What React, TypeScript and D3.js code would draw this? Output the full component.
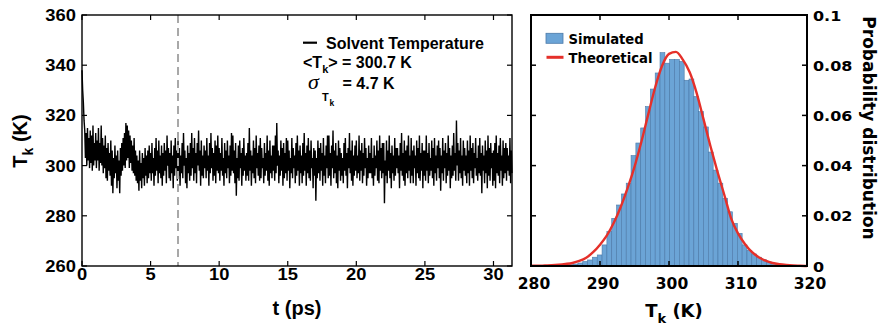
import React from 'react';
import * as d3 from 'd3';

// ---------------- DATA ----------------
const timeStepPs = 0.05;
// Solvent kinetic temperature (K), sampled every 0.05 ps from t = 0 (one row per ps)
const solventTemperature: number[] = [
  338, 330, 325, 318, 314, 303, 313, 300, 315, 302, 311, 299, 314, 301, 312, 298, 316, 300, 309, 302,
  313, 299, 310, 302, 315, 298, 309, 301, 316, 300, 311, 297, 308, 299, 312, 295, 307, 294, 309, 298,
  305, 296, 310, 292, 306, 289, 303, 295, 308, 297, 304, 291, 306, 294, 302, 289, 307, 296, 309, 298,
  311, 300, 313, 299, 317, 302, 316, 303, 314, 299, 312, 301, 310, 298, 308, 297, 311, 296, 306, 294,
  304, 293, 302, 290, 306, 294, 301, 291, 305, 295, 303, 292, 307, 296, 304, 293, 306, 295, 308, 297,
  305, 294, 309, 297, 303, 292, 307, 296, 311, 298, 306, 293, 310, 297, 304, 295, 308, 292, 305, 296,
  309, 298, 306, 293, 312, 300, 307, 295, 305, 294, 310, 297, 304, 291, 308, 296, 311, 299, 306, 294,
  310, 296, 307, 292, 304, 297, 309, 295, 313, 300, 306, 293, 303, 291, 308, 297, 305, 294, 309, 296,
  313, 299, 307, 294, 311, 297, 305, 293, 309, 300, 314, 298, 306, 292, 310, 296, 304, 295, 308, 299,
  306, 295, 311, 298, 304, 292, 309, 297, 313, 299, 307, 294, 305, 296, 310, 293, 308, 298, 312, 297,
  307, 294, 305, 298, 311, 296, 303, 292, 309, 297, 306, 295, 310, 299, 304, 293, 308, 296, 313, 298,
  312, 297, 306, 293, 309, 288, 303, 295, 308, 294, 310, 299, 305, 292, 307, 296, 311, 298, 304, 294,
  305, 296, 309, 294, 315, 298, 306, 292, 304, 297, 310, 295, 307, 293, 312, 299, 305, 296, 308, 294,
  311, 295, 307, 299, 303, 293, 309, 296, 305, 298, 312, 294, 306, 292, 310, 297, 304, 295, 308, 298,
  308, 294, 312, 297, 317, 300, 306, 293, 304, 296, 310, 298, 307, 292, 309, 295, 305, 297, 311, 294,
  310, 298, 306, 291, 303, 297, 311, 295, 307, 299, 304, 293, 309, 296, 312, 298, 306, 292, 308, 297,
  304, 293, 309, 296, 313, 298, 305, 292, 308, 297, 311, 295, 306, 294, 310, 299, 303, 291, 307, 296,
  306, 286, 303, 295, 310, 297, 307, 294, 309, 298, 305, 292, 311, 296, 304, 293, 308, 299, 312, 295,
  312, 296, 305, 292, 308, 299, 314, 295, 306, 297, 309, 293, 304, 291, 310, 298, 307, 294, 305, 296,
  303, 293, 309, 298, 311, 296, 305, 291, 307, 299, 313, 297, 306, 294, 310, 292, 304, 296, 308, 298,
  310, 295, 304, 297, 312, 294, 306, 298, 309, 293, 305, 296, 311, 299, 307, 292, 303, 295, 308, 297,
  305, 297, 311, 295, 303, 292, 308, 296, 304, 299, 310, 294, 306, 293, 312, 298, 307, 295, 309, 297,
  309, 285, 302, 296, 310, 293, 306, 298, 312, 295, 305, 291, 308, 297, 304, 294, 311, 296, 307, 299,
  307, 297, 304, 291, 309, 298, 313, 296, 305, 294, 310, 292, 306, 297, 308, 295, 312, 298, 304, 293,
  311, 296, 306, 293, 308, 299, 304, 292, 310, 297, 307, 295, 312, 294, 305, 298, 309, 291, 306, 296,
  306, 294, 312, 298, 305, 293, 309, 296, 303, 298, 310, 295, 307, 292, 311, 297, 304, 294, 308, 299,
  310, 295, 307, 290, 304, 297, 311, 294, 306, 299, 309, 293, 305, 296, 312, 298, 307, 291, 304, 295,
  308, 296, 313, 298, 305, 294, 318, 300, 309, 294, 306, 297, 311, 295, 304, 292, 310, 298, 307, 296,
  304, 293, 310, 297, 306, 292, 312, 298, 307, 295, 309, 293, 305, 299, 311, 296, 303, 294, 308, 297,
  311, 296, 305, 289, 308, 298, 304, 293, 310, 297, 306, 291, 312, 296, 307, 294, 309, 299, 305, 292,
  306, 294, 309, 291, 312, 297, 305, 296, 308, 293, 311, 298, 304, 292, 310, 295, 307, 297, 309, 294,
  307, 298, 304, 296, 311, 293, 306, 297,
];
const equilibrationTimePs = 7;
const leftXTicks = [0, 5, 10, 15, 20, 25, 30];
const leftYTicks = [260, 280, 300, 320, 340, 360];

// Histogram of simulated T_k (probability density per bin)
const histBinStart = 284.0;
const histBinWidth = 0.7;
const histDensity = [
  0.0002, 0.0003, 0.0005, 0.0008, 0.0012, 0.0018, 0.0024, 0.0035, 0.0044, 0.0084,
  0.0137, 0.0190, 0.0243, 0.0287, 0.0330, 0.0440, 0.0490, 0.0550, 0.0635, 0.0705,
  0.0769, 0.0850, 0.0808, 0.0823, 0.0823, 0.0815, 0.0740, 0.0745, 0.0675, 0.0615,
  0.0554, 0.0454, 0.0382, 0.0330, 0.0270, 0.0216, 0.0170, 0.0130, 0.0084, 0.0062,
  0.0048, 0.0035, 0.0025, 0.0016, 0.0010, 0.0006, 0.0003, 0.0002,
];
// Theoretical distribution
const theoryT = [
  280, 281, 282, 283, 284, 285, 286, 287, 288, 289, 290, 291, 292, 293, 294, 295, 296, 297, 298, 299, 300,
  301, 302, 303, 304, 305, 306, 307, 308, 309, 310, 311, 312, 313, 314, 315, 316, 317, 318, 319, 320,
];
const theoryP = [
  0.0001, 0.0001, 0.0002, 0.0003, 0.0005, 0.0008, 0.0012, 0.0020, 0.0033, 0.0055, 0.0085,
  0.0122, 0.0172, 0.0235, 0.0310, 0.0395, 0.0495, 0.0605, 0.0712, 0.0798, 0.0845,
  0.0853, 0.0822, 0.0772, 0.0690, 0.0585, 0.0478, 0.0378, 0.0285, 0.0190, 0.0130,
  0.0088, 0.0056, 0.0035, 0.0021, 0.0012, 0.0007, 0.0004, 0.0002, 0.0001, 0.0000,
];
const rightXTicks = [280, 290, 300, 310, 320];
const rightYTicks = [0, 0.02, 0.04, 0.06, 0.08, 0.1];
const rightYTickLabels = ['0', '0.02', '0.04', '0.06', '0.08', '0.1'];

const legendLineLabel = 'Solvent Temperature';
const meanLabel = '300.7';
const sigmaLabel = '4.7';

// ---------------- STYLE ----------------
const ARIAL = '"Liberation Sans", Arial, sans-serif';
const VERD = '"DejaVu Sans", Verdana, sans-serif';
const BAR_FILL = '#6ba4d6';
const BAR_STROKE = '#4b79a8';
const RED = '#e5302a';

const L = { left: 82, right: 512, top: 15, bottom: 266 };
const R = { left: 531, right: 807, top: 15, bottom: 266 };

function SText(props: { x: number; y: number; sx?: number; anchor?: string; size: number; family: string; children: any }) {
  const { x, y, sx = 1, anchor = 'start', size, family, children } = props;
  return (
    <text
      transform={`translate(${x},${y}) scale(${sx},1)`}
      textAnchor={anchor}
      fontFamily={family}
      fontWeight="bold"
      fontSize={size}
      fill="#000"
    >
      {children}
    </text>
  );
}

export default function App() {
  const xL = d3.scaleLinear().domain([0, 31.35]).range([L.left, L.right]);
  const yL = d3.scaleLinear().domain([260, 360]).range([L.bottom, L.top]);
  const xR = d3.scaleLinear().domain([280, 320]).range([R.left, R.right]);
  const yR = d3.scaleLinear().domain([0, 0.1]).range([R.bottom, R.top]);

  const tracePath =
    d3
      .line<number>()
      .x((_, i) => xL(i * timeStepPs))
      .y((d) => yL(d))(solventTemperature) || '';

  const theoryPath =
    d3
      .line<number>()
      .x((_, i) => xR(theoryT[i]))
      .y((d) => yR(d))
      .curve(d3.curveMonotoneX)(theoryP) || '';

  const tl = 5; // tick length

  return (
    <svg width={880} height={326} style={{ position: 'absolute', left: 0, top: 0, background: '#fff' }}>
      <rect x={0} y={0} width={880} height={326} fill="#fff" />

      {/* ---------- LEFT PANEL ---------- */}
      <g>
        <path d={tracePath} fill="none" stroke="#000" strokeWidth={1.4} strokeLinejoin="miter" strokeMiterlimit={2} />
        <line
          x1={xL(equilibrationTimePs)}
          x2={xL(equilibrationTimePs)}
          y1={L.top}
          y2={L.bottom}
          stroke="#a8a8a8"
          strokeWidth={2}
          strokeDasharray="8,5"
        />
        <rect x={L.left} y={L.top} width={L.right - L.left} height={L.bottom - L.top} fill="none" stroke="#000" strokeWidth={1.4} />
        {leftXTicks.map((t) => (
          <g key={'lx' + t}>
            <line x1={xL(t)} x2={xL(t)} y1={L.bottom} y2={L.bottom - tl} stroke="#000" strokeWidth={1.2} />
            <line x1={xL(t)} x2={xL(t)} y1={L.top} y2={L.top + tl} stroke="#000" strokeWidth={1.2} />
            <SText x={xL(t)} y={279.5} sx={1.08} anchor="middle" size={17} family={ARIAL}>
              {String(t)}
            </SText>
          </g>
        ))}
        {leftYTicks.map((v) => (
          <g key={'ly' + v}>
            <line x1={L.left} x2={L.left + tl} y1={yL(v)} y2={yL(v)} stroke="#000" strokeWidth={1.2} />
            <line x1={L.right} x2={L.right - tl} y1={yL(v)} y2={yL(v)} stroke="#000" strokeWidth={1.2} />
            <SText x={76} y={yL(v) + 6} sx={1.08} anchor="end" size={17} family={ARIAL}>
              {String(v)}
            </SText>
          </g>
        ))}
        <SText x={L.left + (L.right - L.left) / 2} y={315} anchor="middle" size={20} family={ARIAL}>
          t (ps)
        </SText>
        <text transform="translate(27,141) rotate(-90)" textAnchor="middle" fontFamily={ARIAL} fontWeight="bold" fontSize={20}>
          T<tspan dy={6} fontSize={14}>k</tspan>
          <tspan dy={-6}> (K)</tspan>
        </text>

        {/* legend / annotations */}
        <line x1={303} x2={317} y1={42.7} y2={42.7} stroke="#000" strokeWidth={2.2} />
        <SText x={326} y={48.5} size={16} family={ARIAL}>
          {legendLineLabel}
        </SText>
        <text x={303} y={68} fontFamily={ARIAL} fontWeight="bold" fontSize={16}>
          {'<T'}
          <tspan dy={5} fontSize={11}>k</tspan>
          <tspan dy={-5}>{`> = ${meanLabel} K`}</tspan>
        </text>
        <text x={308} y={89} fontFamily='"Liberation Serif", "Times New Roman", serif' fontStyle="italic" fontSize={22}>
          σ
        </text>
        <text x={322} y={101} fontFamily={ARIAL} fontWeight="bold" fontSize={11}>
          T
        </text>
        <text x={329.5} y={106} fontFamily={ARIAL} fontWeight="bold" fontSize={8.5}>
          k
        </text>
        <text x={342.5} y={89} fontFamily={ARIAL} fontWeight="bold" fontSize={16}>
          {`= ${sigmaLabel} K`}
        </text>
      </g>

      {/* ---------- RIGHT PANEL ---------- */}
      <g>
        {histDensity.map((p, i) => {
          const x0 = histBinStart + i * histBinWidth;
          const x1 = x0 + histBinWidth;
          return (
            <rect
              key={'b' + i}
              x={xR(x0)}
              y={yR(p)}
              width={xR(x1) - xR(x0)}
              height={R.bottom - yR(p)}
              fill={BAR_FILL}
              stroke={BAR_STROKE}
              strokeWidth={0.6}
            />
          );
        })}
        <path d={theoryPath} fill="none" stroke={RED} strokeWidth={2.4} />
        <rect x={R.left} y={R.top} width={R.right - R.left} height={R.bottom - R.top} fill="none" stroke="#000" strokeWidth={2} />
        {rightXTicks.map((t) => (
          <g key={'rx' + t}>
            <line x1={xR(t)} x2={xR(t)} y1={R.bottom} y2={R.bottom - tl} stroke="#000" strokeWidth={1.5} />
            <line x1={xR(t)} x2={xR(t)} y1={R.top} y2={R.top + tl} stroke="#000" strokeWidth={1.5} />
            <SText x={xR(t) + 3} y={288.5} anchor="middle" size={15.5} family={VERD}>
              {String(t)}
            </SText>
          </g>
        ))}
        {rightYTicks.map((v, i) => (
          <g key={'ry' + v}>
            <line x1={R.left} x2={R.left + tl} y1={yR(v)} y2={yR(v)} stroke="#000" strokeWidth={1.5} />
            <line x1={R.right} x2={R.right - tl} y1={yR(v)} y2={yR(v)} stroke="#000" strokeWidth={1.5} />
            <SText x={813} y={yR(v) + 5.5} sx={1.1} size={14.5} family={VERD}>
              {rightYTickLabels[i]}
            </SText>
          </g>
        ))}
        <text x={674} y={316.5} textAnchor="middle" fontFamily={VERD} fontWeight="bold" fontSize={18}>
          T<tspan dy={6} fontSize={13}>k</tspan>
          <tspan dy={-6}> (K)</tspan>
        </text>
        <text transform="translate(862.5,128) rotate(90)" textAnchor="middle" fontFamily={VERD} fontWeight="bold" fontSize={17}>
          Probability distribution
        </text>

        {/* legend */}
        <rect x={546} y={33.3} width={17} height={10} fill={BAR_FILL} stroke={BAR_STROKE} strokeWidth={0.8} />
        <SText x={568.5} y={43.5} size={13.2} family={VERD}>
          Simulated
        </SText>
        <line x1={546.5} x2={563.5} y1={57.3} y2={57.3} stroke={RED} strokeWidth={3} />
        <SText x={568.5} y={62.8} size={13.2} family={VERD}>
          Theoretical
        </SText>
      </g>
    </svg>
  );
}
